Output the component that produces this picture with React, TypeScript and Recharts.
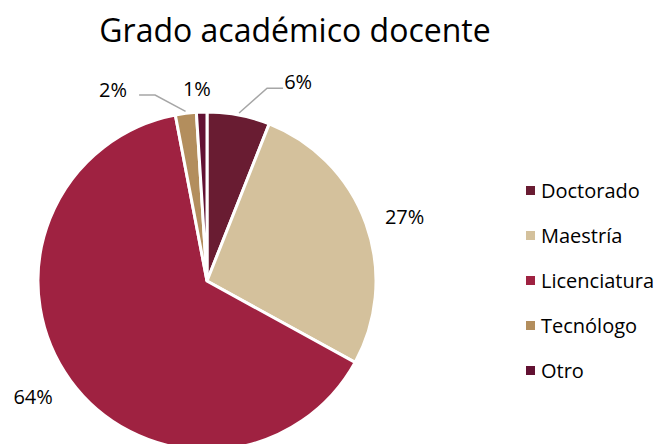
import React from 'react';
import { PieChart, Pie, Cell, Legend } from 'recharts';

const categories = ['Doctorado', 'Maestría', 'Licenciatura', 'Tecnólogo', 'Otro'];
const shares = [6, 27, 64, 2, 1];
const COLORS = ['#691C32', '#D4C19C', '#9F2241', '#B38E5D', '#621132'];

// where each percentage label sits: angle shift from the slice middle, distance from centre
const labelSpots = [
  { shift: -13.8, r: 219, elbow: { shift: -6.5, r: 202 }, side: 1 },
  { shift: -1.6, r: 208 },
  { shift: -2.3, r: 209 },
  { shift: 19, r: 213, elbow: { shift: 8.4, r: 193 }, side: -1 },
  { shift: 1.2, r: 193 },
];

const data = categories.map((name, i) => ({ name, value: shares[i] }));

const FONT = '"Open Sans", sans-serif';
const RAD = Math.PI / 180;

const polar = (cx: number, cy: number, r: number, angle: number) => ({
  x: cx + r * Math.cos(-angle * RAD),
  y: cy + r * Math.sin(-angle * RAD),
});

const renderLabel = (props: any) => {
  const { cx, cy, midAngle, outerRadius, index, value } = props;
  const spot = labelSpots[index];
  const pos = polar(cx, cy, spot.r, midAngle + spot.shift);
  let line = null;
  if (spot.elbow) {
    const a = polar(cx, cy, outerRadius + 2, midAngle);
    const b = polar(cx, cy, spot.elbow.r, midAngle + spot.elbow.shift);
    const endX = b.x + spot.side * 16;
    line = (
      <polyline
        points={`${a.x},${a.y} ${b.x},${b.y} ${endX},${b.y}`}
        fill="none"
        stroke="#A6A6A6"
        strokeWidth={1.5}
      />
    );
  }
  return (
    <g key={`lbl-${index}`}>
      {line}
      <text
        x={pos.x}
        y={pos.y}
        textAnchor="middle"
        dominantBaseline="central"
        fontFamily={FONT}
        fontSize={20}
        fill="#000"
      >
        {`${value}%`}
      </text>
    </g>
  );
};

const renderLegend = () => (
  <div style={{ fontFamily: FONT, fontSize: 20, color: '#000' }}>
    {categories.map((name, i) => (
      <div key={name} style={{ display: 'flex', alignItems: 'center', height: 45 }}>
        <span
          style={{ width: 9, height: 9, background: COLORS[i], marginRight: 6, display: 'inline-block' }}
        />
        <span>{name}</span>
      </div>
    ))}
  </div>
);

const App = () => {
  return (
    <div style={{ position: 'absolute', left: 0, top: 0, width: 663, height: 444, background: '#fff', overflow: 'hidden' }}>
      <div
        style={{
          position: 'absolute',
          left: 0,
          width: 590,
          top: 8,
          textAlign: 'center',
          fontFamily: FONT,
          fontSize: 32,
          color: '#000',
        }}
      >
        Grado académico docente
      </div>
      <PieChart width={663} height={444} margin={{ top: 0, right: 0, bottom: 0, left: 0 }}>
        <Pie
          data={data}
          dataKey="value"
          nameKey="name"
          cx={207}
          cy={281}
          outerRadius={169}
          startAngle={90}
          endAngle={-270}
          stroke="#fff"
          strokeWidth={3}
          label={renderLabel}
          labelLine={false}
          isAnimationActive={false}
        >
          {data.map((entry, index) => (
            <Cell key={`cell-${index}`} fill={COLORS[index]} />
          ))}
        </Pie>
        <Legend
          layout="vertical"
          align="right"
          verticalAlign="top"
          content={renderLegend}
          wrapperStyle={{ top: 168, left: 526, width: 137 }}
        />
      </PieChart>
    </div>
  );
};

export default App;
